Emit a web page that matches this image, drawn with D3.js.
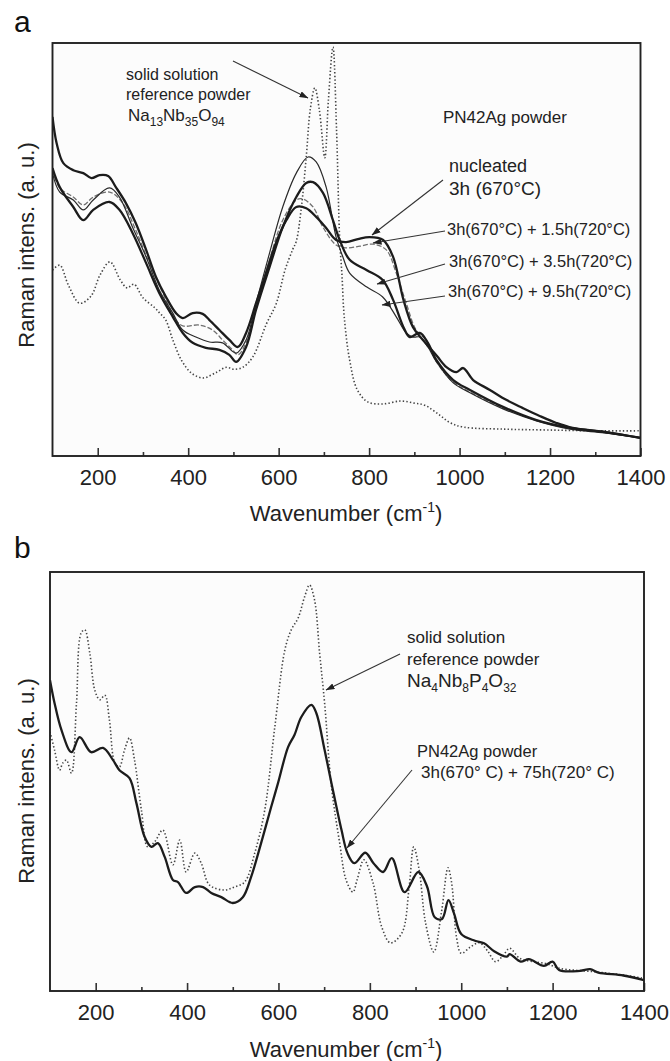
<!DOCTYPE html>
<html><head><meta charset="utf-8">
<script src="https://cdn.jsdelivr.net/npm/d3@7"></script>
<style>
body{margin:0;background:#fff;}
svg{display:block;font-family:"Liberation Sans",Arial,Helvetica,sans-serif;}
</style>
</head><body>
<svg id="c" width="670" height="1061"></svg>
<script>
// ---------- DATA (wavenumber cm^-1, Raman intensity a.u.) ----------
const xTicks = [200, 400, 600, 800, 1000, 1200, 1400];
const xMinorTicks = [300, 500, 700, 900, 1100, 1300];

// Panel a
const aRefNa13Nb35O94 = [[100,45.0],[116,46.2],[135,41.4],[160,37.0],[185,38.7],[205,43.8],[227,47.0],[250,42.6],[265,40.7],[280,41.6],[300,38.3],[325,36.0],[337,34.6],[350,33.0],[366,28.1],[385,23.2],[407,20.1],[433,18.9],[463,20.3],[485,21.5],[500,21.0],[521,21.5],[543,24.0],[573,32.0],[595,37.0],[614,45.0],[631,50.0],[639,52.0],[650,60.0],[661,72.4],[670,84.0],[680,89.1],[690,83.8],[702,72.2],[710,86.2],[720,99.0],[728,78.9],[735,52.3],[740,43.8],[745,33.7],[757,23.2],[774,16.0],[797,13.1],[830,12.6],[870,13.3],[900,12.8],[923,12.3],[956,9.9],[980,8.0],[1009,7.0],[1100,6.5],[1193,6.3],[1300,6.1],[1400,6.1]];
const aNucleated3h = [[100,82.1],[109,75.8],[124,70.9],[146,69.2],[168,68.5],[186,67.3],[204,68.0],[223,67.8],[240,65.1],[262,61.3],[284,56.4],[307,49.9],[329,43.3],[351,38.5],[373,34.6],[388,33.4],[410,34.6],[432,34.4],[447,32.9],[469,30.5],[491,28.1],[510,26.4],[528,29.8],[550,37.0],[572,44.3],[594,51.6],[617,57.1],[639,60.3],[661,60.0],[683,57.9],[705,55.2],[727,52.3],[749,51.8],[775,52.5],[801,53.0],[831,52.3],[853,48.2],[876,37.8],[897,31.2],[919,28.1],[950,24.2],[971,21.5],[993,20.3],[1008,21.3],[1030,18.4],[1067,16.0],[1103,13.6],[1140,11.6],[1177,9.7],[1214,8.0],[1250,6.8],[1324,5.8],[1400,4.4]];
const a1_5h = [[100,69.2],[116,64.9],[146,62.7],[168,60.8],[190,62.7],[226,63.9],[255,61.3],[284,54.7],[314,46.7],[344,39.5],[373,32.9],[388,31.5],[425,31.7],[454,30.5],[476,28.1],[498,25.7],[510,24.5],[528,27.4],[550,36.1],[580,47.5],[609,57.1],[639,62.0],[654,62.2],[676,60.3],[698,55.4],[727,51.1],[749,50.4],[780,50.8],[809,51.3],[838,49.9],[860,44.3],[882,37.0],[904,30.5],[926,28.1],[949,22.8],[986,17.9],[1023,15.5],[1096,11.6],[1170,8.7],[1244,6.8],[1320,5.8],[1400,4.4]];
const a3_5h = [[100,69.7],[116,65.1],[146,60.3],[168,57.1],[190,59.6],[226,61.5],[248,59.6],[277,54.0],[307,46.7],[336,39.5],[366,33.7],[388,29.8],[410,27.4],[439,26.2],[469,25.7],[491,24.5],[506,22.8],[528,26.4],[550,35.4],[580,45.8],[609,55.4],[639,62.7],[661,66.1],[676,66.3],[698,63.7],[720,57.1],[735,52.3],[757,47.5],[795,45.0],[830,42.6],[853,37.8],[876,31.2],[890,28.8],[912,29.8],[930,27.4],[949,23.2],[986,18.4],[1023,16.0],[1096,11.9],[1170,8.7],[1244,6.8],[1320,5.8],[1400,4.4]];
const a9_5h = [[100,68.5],[116,63.9],[146,62.0],[168,59.6],[190,62.0],[226,64.9],[248,62.7],[277,55.4],[307,48.2],[336,40.2],[366,34.6],[388,30.5],[417,28.8],[447,27.6],[476,27.4],[506,24.9],[528,28.1],[550,37.0],[580,49.2],[609,60.3],[639,68.5],[665,72.4],[683,71.2],[705,65.1],[727,53.0],[742,48.2],[757,44.3],[795,40.9],[830,38.5],[860,33.7],[882,29.8],[898,28.8],[912,28.8],[930,26.4],[949,22.8],[986,17.7],[1023,15.3],[1096,11.4],[1170,8.5],[1244,6.5],[1320,5.6],[1400,4.4]];

// Panel b
const bRefNa4Nb8P4O32 = [[100,61.8],[110,57.5],[121,52.7],[128,54.4],[136,55.1],[147,52.0],[158,68.7],[168,85.4],[176,86.2],[187,80.7],[198,71.8],[209,69.5],[220,70.6],[230,64.7],[242,54.4],[252,53.5],[263,57.5],[274,60.4],[285,55.1],[300,43.2],[314,34.4],[329,35.6],[347,38.4],[369,30.1],[384,36.0],[398,28.4],[417,32.9],[431,30.5],[449,25.3],[482,24.1],[503,24.8],[526,26.0],[548,32.9],[570,43.2],[592,63.0],[614,81.4],[628,86.2],[643,89.0],[657,94.0],[668,96.9],[679,93.3],[690,80.7],[701,68.7],[716,48.7],[734,35.3],[748,26.5],[763,23.6],[772,26.5],[787,31.3],[807,25.8],[826,15.3],[845,11.5],[870,13.8],[886,24.8],[896,34.4],[908,28.9],[922,16.2],[940,9.3],[957,19.0],[971,29.4],[979,25.8],[990,12.6],[1000,9.0],[1020,10.5],[1040,11.5],[1058,9.5],[1075,7.0],[1092,8.5],[1106,10.2],[1128,7.8],[1158,7.0],[1187,6.5],[1216,5.4],[1290,4.6],[1355,3.8],[1400,3.0]];
const bSample75h = [[100,74.2],[110,68.7],[125,62.3],[147,57.0],[165,60.6],[190,57.0],[216,58.0],[238,55.1],[252,52.7],[274,50.8],[289,44.9],[307,36.8],[322,34.4],[336,35.3],[351,32.0],[369,26.5],[380,26.0],[398,23.4],[417,24.8],[435,24.8],[453,23.4],[475,22.4],[500,21.0],[522,22.4],[540,27.2],[562,35.3],[584,43.9],[599,49.6],[621,58.2],[635,61.1],[650,65.4],[672,68.3],[683,66.3],[701,57.5],[716,49.6],[738,38.4],[751,32.9],[766,30.5],[790,33.0],[808,30.5],[829,28.4],[848,31.7],[876,23.6],[906,28.4],[925,25.0],[942,17.6],[958,17.2],[972,21.7],[984,18.6],[1000,13.6],[1030,12.0],[1050,11.4],[1072,9.5],[1100,8.2],[1106,8.8],[1130,7.0],[1148,7.6],[1181,6.0],[1200,7.0],[1214,5.0],[1260,4.8],[1282,5.2],[1300,4.4],[1355,3.7],[1400,2.6]];

// ---------- DRAW ----------
const svg = d3.select("#c");
const defs = svg.append("defs");
defs.append("marker").attr("id","arr").attr("viewBox","0 0 10 7")
  .attr("refX",9.5).attr("refY",3.5).attr("markerWidth",9).attr("markerHeight",6.5)
  .attr("markerUnits","userSpaceOnUse").attr("orient","auto")
  .append("path").attr("d","M0,0 L10,3.5 L0,7 Z").attr("fill","#222");

const styles = {
  thick:  {stroke:"#1c1c1c", width:2.3, dash:null},
  thin:   {stroke:"#2a2a2a", width:1.2, dash:null},
  dashed: {stroke:"#707070", width:1.3, dash:"5,2"},
  dotted: {stroke:"#444",    width:1.6, dash:"1.4,2.2"}
};

function panel(cfg){
  const x = d3.scaleLinear().domain([100,1400]).range([cfg.left, cfg.right]);
  const y = d3.scaleLinear().domain([0,100]).range([cfg.bottom, cfg.top]);
  const g = svg.append("g");
  g.append("rect").attr("x",cfg.left).attr("y",cfg.top)
    .attr("width",cfg.right-cfg.left).attr("height",cfg.bottom-cfg.top)
    .attr("fill","#fcfcfc");
  const clipId = "clip"+cfg.id;
  defs.append("clipPath").attr("id",clipId).append("rect")
    .attr("x",cfg.left).attr("y",cfg.top)
    .attr("width",cfg.right-cfg.left).attr("height",cfg.bottom-cfg.top);
  const line = d3.line().x(d=>x(d[0])).y(d=>y(d[1])).curve(d3.curveCatmullRom.alpha(0.5));
  const lg = g.append("g").attr("clip-path",`url(#${clipId})`);
  cfg.series.forEach(s=>{
    const st = styles[s.style];
    lg.append("path").datum(s.data).attr("d",line)
      .attr("fill","none").attr("stroke",st.stroke).attr("stroke-width",st.width)
      .attr("stroke-dasharray",st.dash).attr("stroke-linejoin","round");
  });
  // axes
  const ax = g.append("g").attr("transform",`translate(0,${cfg.bottom})`)
    .call(d3.axisBottom(x).tickValues(xTicks).tickSize(-8).tickPadding(13.5).tickFormat(d3.format("d")));
  ax.select(".domain").remove();
  ax.selectAll("line").attr("stroke","#333").attr("stroke-width",1.6);
  ax.selectAll("text").attr("font-size",22).attr("fill","#222")
    .attr("font-family",'"Liberation Sans",Arial,sans-serif');
  const axm = g.append("g").attr("transform",`translate(0,${cfg.bottom})`)
    .call(d3.axisBottom(x).tickValues(xMinorTicks).tickSize(-4).tickFormat(""));
  axm.select(".domain").remove();
  axm.selectAll("line").attr("stroke","#333").attr("stroke-width",1.6);
  // frame
  g.append("rect").attr("x",cfg.left).attr("y",cfg.top)
    .attr("width",cfg.right-cfg.left).attr("height",cfg.bottom-cfg.top)
    .attr("fill","none").attr("stroke","#222").attr("stroke-width",1.9);
  // x title
  const xt = g.append("text").attr("x",cfg.xTitleX).attr("y",cfg.xTitleY)
    .attr("text-anchor","middle").attr("font-size",22).attr("fill","#222");
  xt.append("tspan").text("Wavenumber (cm");
  xt.append("tspan").attr("font-size",14).attr("dy",-9).text("-1");
  xt.append("tspan").attr("dy",9).text(")");
  // y title
  g.append("text").attr("transform",`translate(${cfg.yTitleX},${cfg.yTitleY}) rotate(-90)`)
    .attr("text-anchor","middle").attr("font-size",22).attr("fill","#222")
    .text("Raman intens. (a. u.)");
  // panel letter
  g.append("text").attr("x",cfg.letterX).attr("y",cfg.letterY)
    .attr("font-size",30).attr("fill","#111").text(cfg.letter);
  return g;
}

function label(g, xx, yy, size, txt){
  g.append("text").attr("x",xx).attr("y",yy).attr("font-size",size).attr("fill","#222").text(txt);
}
function formula(g, xx, yy, size, subSize, parts){
  const t = g.append("text").attr("x",xx).attr("y",yy).attr("font-size",size).attr("fill","#222");
  let prevSub = false;
  parts.forEach(([s,isSub])=>{
    const ts = t.append("tspan").text(s);
    if(isSub){ ts.attr("font-size",subSize); if(!prevSub) ts.attr("dy",5); }
    else if(prevSub){ ts.attr("dy",-5); }
    prevSub = isSub;
  });
}
function arrow(g, x1,y1,x2,y2){
  g.append("line").attr("x1",x1).attr("y1",y1).attr("x2",x2).attr("y2",y2)
    .attr("stroke","#333").attr("stroke-width",1.1).attr("marker-end","url(#arr)");
}

const ga = panel({id:"a", left:52.5, right:640.5, top:43, bottom:456,
  xTitleX:346, xTitleY:521, yTitleX:34, yTitleY:245, letter:"a", letterX:14, letterY:32,
  series:[
    {data:aRefNa13Nb35O94, style:"dotted"},
    {data:a1_5h, style:"dashed"},
    {data:a9_5h, style:"thin"},
    {data:a3_5h, style:"thick"},
    {data:aNucleated3h, style:"thick"}
  ]});
label(ga,126,80,16,"solid solution");
label(ga,126,100,16,"reference powder");
formula(ga,128,121,17,12,[["Na",0],["13",1],["Nb",0],["35",1],["O",0],["94",1]]);
arrow(ga,233,61,308,98);
label(ga,443,123,17,"PN42Ag powder");
label(ga,449,172,18,"nucleated");
label(ga,449,195,19,"3h (670°C)");
arrow(ga,443,180,372,235);
label(ga,447,235,16.5,"3h(670°C) + 1.5h(720°C)");
arrow(ga,445,231,373,243);
label(ga,449,267,16.5,"3h(670°C) + 3.5h(720°C)");
arrow(ga,445,264,377,284);
label(ga,448,297,16.5,"3h(670°C) + 9.5h(720°C)");
arrow(ga,445,296,382,305);

const gb = panel({id:"b", left:50, right:644, top:572, bottom:991,
  xTitleX:346, xTitleY:1057, yTitleX:34, yTitleY:781, letter:"b", letterX:14, letterY:558,
  series:[
    {data:bRefNa4Nb8P4O32, style:"dotted"},
    {data:bSample75h, style:"thick"}
  ]});
label(gb,407,643,17,"solid solution");
label(gb,407,665,17,"reference powder");
formula(gb,407,687,19,12,[["Na",0],["4",1],["Nb",0],["8",1],["P",0],["4",1],["O",0],["32",1]]);
arrow(gb,400,654,326,690);
label(gb,417,757,16.5,"PN42Ag powder");
label(gb,421,778,17,"3h(670° C) + 75h(720° C)");
arrow(gb,412,770,347,848);
</script>
</body></html>
